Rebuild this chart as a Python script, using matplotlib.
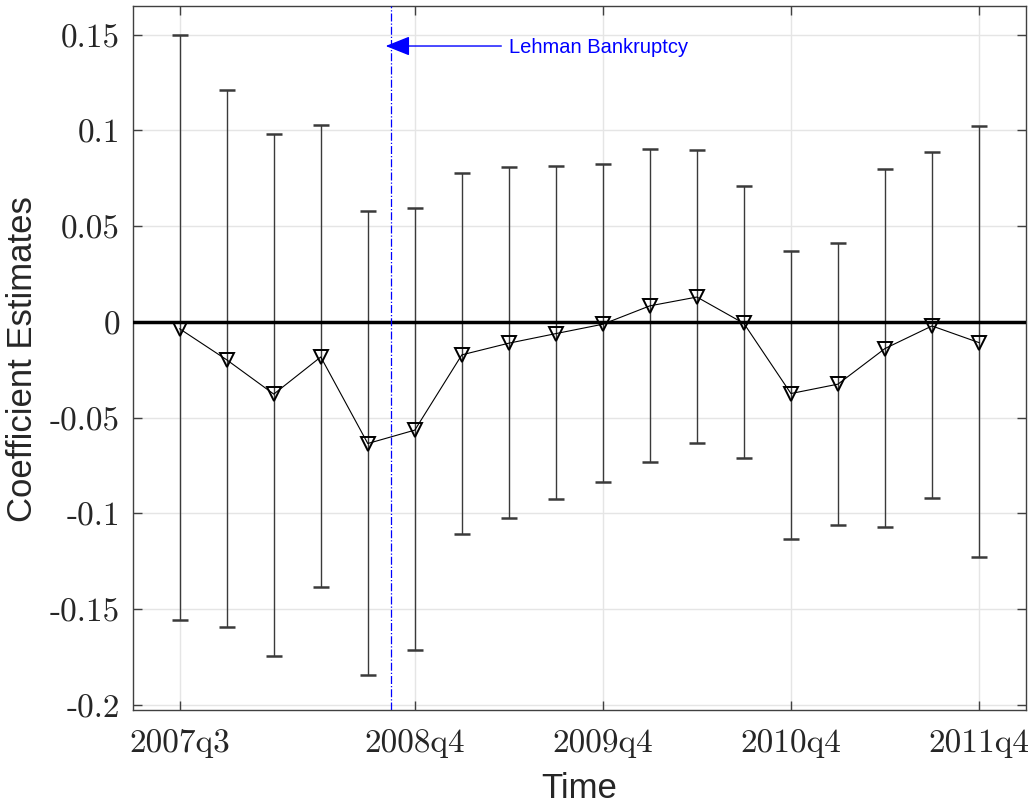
import matplotlib
matplotlib.use('Agg')
import matplotlib.pyplot as plt
import numpy as np

# quarters from 2007q3 to 2011q4
quarters = ['2007q3', '2007q4', '2008q1', '2008q2', '2008q3', '2008q4',
            '2009q1', '2009q2', '2009q3', '2009q4', '2010q1', '2010q2',
            '2010q3', '2010q4', '2011q1', '2011q2', '2011q3', '2011q4']
coef = [-0.0036, -0.0198, -0.0377, -0.0183, -0.0635, -0.0565,
        -0.0172, -0.0111, -0.0061, -0.0012, 0.0084, 0.0130,
        -0.0008, -0.0374, -0.0325, -0.0139, -0.0021, -0.0108]
upper = [0.1498, 0.1209, 0.0980, 0.1027, 0.0578, 0.0593,
         0.0776, 0.0809, 0.0814, 0.0823, 0.0901, 0.0898,
         0.0708, 0.0371, 0.0412, 0.0797, 0.0889, 0.1023]
lower = [-0.1557, -0.1595, -0.1745, -0.1385, -0.1842, -0.1712,
         -0.1110, -0.1025, -0.0927, -0.0837, -0.0732, -0.0631,
         -0.0713, -0.1133, -0.1063, -0.1070, -0.0919, -0.1227]
xtick_labels = ['2007q3', '2008q4', '2009q4', '2010q4', '2011q4']
ytick_vals = [0.15, 0.1, 0.05, 0, -0.05, -0.1, -0.15, -0.2]
ytick_labels = ['0.15', '0.1', '0.05', '0', '-0.05', '-0.1', '-0.15', '-0.2']
lehman_pos = 4.5  # mid September 2008, between 2008q3 and 2008q4

x = np.arange(len(quarters))
c = np.array(coef)
err = np.vstack([c - np.array(lower), np.array(upper) - c])

fig = plt.figure(figsize=(10.32, 8.04), dpi=100)
ax = fig.add_axes([0.1286, 0.1161, 0.8656, 0.8752])

# grid
for yv in ytick_vals:
    ax.axhline(yv, color='#e5e5e5', lw=1, zorder=0)
xt = [quarters.index(q) for q in xtick_labels]
for xv in xt:
    ax.axvline(xv, color='#e5e5e5', lw=1, zorder=0)

ax.errorbar(x, c, yerr=err, fmt='none', ecolor='#3a3a3a', elinewidth=1.0,
            capsize=5.5, capthick=1.8, zorder=2)
ax.axhline(0, color='black', lw=2.5, zorder=3)
ax.plot(x, c, color='black', lw=0.8, marker='v', ms=10, mfc='none',
        mec='black', mew=1.4, zorder=4)

ax.axvline(lehman_pos, color='blue', lw=0.9, ls='-.', zorder=3)
ax.annotate('', xy=(4.38, 0.1441), xytext=(6.84, 0.1441),
            arrowprops=dict(arrowstyle='-|>,head_length=1.0,head_width=0.4',
                            color='blue', lw=1, mutation_scale=15,
                            shrinkA=0, shrinkB=0))
ax.text(7.0, 0.1441, 'Lehman Bankruptcy', color='blue', fontsize=14.5,
        family='Liberation Sans', va='center', ha='left')

ax.set_xlim(-1, 18)
ax.set_ylim(-0.2025, 0.165)

ax.set_xticks(xt)
ax.set_xticklabels(xtick_labels, family='cmr10', fontsize=24, color='#262626')
ax.set_yticks(ytick_vals)
ax.set_yticklabels(ytick_labels, family='cmr10', fontsize=24, color='#262626')
ax.tick_params(direction='in', length=6.5, width=1, color='#404040',
               top=True, right=True)
ax.tick_params(axis='x', pad=13)
ax.tick_params(axis='y', pad=9)

for s in ax.spines.values():
    s.set_color('#404040')
    s.set_linewidth(1)

ax.set_xlabel('Time', family='Liberation Sans', fontsize=25, color='#262626',
              labelpad=10)
ax.set_ylabel('Coefficient Estimates', family='Liberation Sans', fontsize=25,
              color='#262626', labelpad=8)

fig.savefig('out.png', dpi=100)
